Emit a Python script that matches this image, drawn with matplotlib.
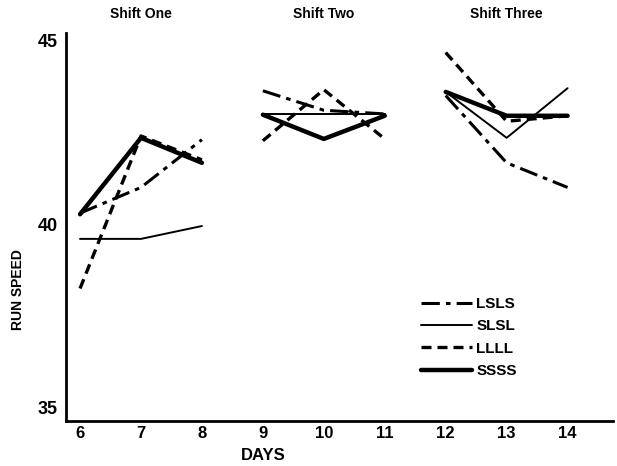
import matplotlib
matplotlib.use('Agg')
import matplotlib.pyplot as plt

### Data
days = [6, 7, 8, 9, 10, 11, 12, 13, 14]
shifts = [[6, 7, 8], [9, 10, 11], [12, 13, 14]]
shift_titles = ['Shift One', 'Shift Two', 'Shift Three']

lsls = [40.3, 41.0, 42.3, 43.63, 43.1, 43.0, 43.5, 41.67, 41.0]
slsl = [39.6, 39.6, 39.95, 43.0, 43.0, 43.0, 43.6, 42.35, 43.7]
llll = [38.25, 42.4, 41.75, 42.27, 43.66, 42.32, 44.67, 42.8, 42.95]
ssss = [40.27, 42.35, 41.67, 42.98, 42.32, 42.95, 43.6, 42.95, 42.95]

series = [('LSLS', lsls, (0, (6, 2, 1.5, 2)), 2.2),
          ('SLSL', slsl, '-', 1.4),
          ('LLLL', llll, (0, (3, 1.8)), 2.4),
          ('SSSS', ssss, '-', 3.2)]

plt.rcParams['font.family'] = ['Liberation Sans', 'DejaVu Sans']

fig = plt.figure(figsize=(6.17, 4.66), dpi=100)
ax = fig.add_axes([0.107, 0.097, 0.886, 0.832])

### Each shift is drawn as its own segment (lines are not joined across shifts)
for name, vals, ls, lw in series:
    first = True
    for sh in shifts:
        ys = [vals[days.index(d)] for d in sh]
        ax.plot(sh, ys, color='black', linestyle=ls, linewidth=lw,
                label=name if first else None, solid_capstyle='round',
                dash_capstyle='butt')
        first = False

for sh, title in zip(shifts, shift_titles):
    ax.text(sh[1], 1.03, title, transform=ax.get_xaxis_transform(),
            ha='center', va='bottom', fontsize=10, fontweight='bold')

ax.set_xlim(5.77, 14.74)
ax.set_ylim(34.65, 45.2)
ax.set_xticks(days)
ax.set_yticks([35, 40, 45])
ax.tick_params(axis='x', length=0, labelsize=12, pad=4)
ax.tick_params(axis='y', length=0, labelsize=13, pad=6)
for lab in ax.get_xticklabels() + ax.get_yticklabels():
    lab.set_fontweight('bold')
ax.spines['top'].set_visible(False)
ax.spines['right'].set_visible(False)
ax.spines['left'].set_linewidth(2)
ax.spines['bottom'].set_linewidth(2)

fig.text(263 / 617, 1 - 456 / 466, 'DAYS', ha='center', va='center',
         fontsize=12, fontweight='bold')
fig.text(18 / 617, 1 - 290 / 466, 'RUN SPEED', ha='center', va='center',
         rotation=90, fontsize=10, fontweight='bold')

leg = ax.legend(loc='upper left', bbox_to_anchor=(0.625, 0.355), frameon=False,
                handlelength=3.3, handletextpad=0.3, labelspacing=0.55,
                prop={'size': 11, 'weight': 'bold'})

fig.savefig('out.png', dpi=100)
